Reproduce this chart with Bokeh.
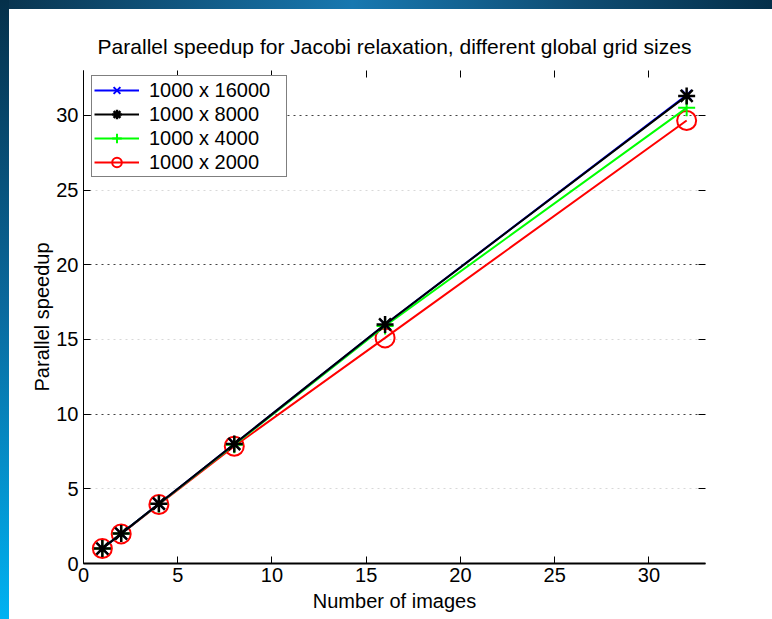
from bokeh.plotting import figure
from bokeh.models import (Range1d, LinearAxis, FixedTicker, Grid, Legend, LegendItem, Spacer)
from bokeh.layouts import row, column
from bokeh.embed import file_html
from bokeh.resources import INLINE

images = [1, 2, 4, 8, 16, 32]
s16000 = [1.0, 2.0, 4.0, 8.0, 16.0, 31.35]
s8000 = [1.0, 2.0, 4.0, 8.0, 16.0, 31.3]
s4000 = [1.0, 2.0, 3.98, 7.95, 15.9, 30.5]
s2000 = [1.0, 1.98, 3.95, 7.85, 15.1, 29.65]
labels = ["1000 x 16000", "1000 x 8000", "1000 x 4000", "1000 x 2000"]
ticks = [0, 5, 10, 15, 20, 25, 30]

FONT = "Liberation Sans"

p = figure(width=763, height=610, output_backend="svg", toolbar_location=None,
           x_range=Range1d(0, 33), y_range=Range1d(0, 33),
           min_border_left=74, min_border_right=67, min_border_top=61, min_border_bottom=56,
           title="Parallel speedup for Jacobi relaxation, different global grid sizes")
p.background_fill_color = "white"
p.border_fill_color = "white"
p.outline_line_color = None

p.title.text_font = FONT
p.title.text_font_size = "21px"
p.title.text_font_style = "normal"
p.title.align = "center"
p.title.text_color = "black"
p.title.standoff = 25

for ax in (p.xaxis[0], p.yaxis[0]):
    ax.ticker = FixedTicker(ticks=ticks)
    ax.major_label_text_font = FONT
    ax.major_label_text_font_size = "20px"
    ax.major_label_text_color = "black"
    ax.axis_label_text_font = FONT
    ax.axis_label_text_font_size = "20px"
    ax.axis_label_text_font_style = "normal"
    ax.axis_label_text_color = "black"
    ax.major_tick_in = 7
    ax.major_tick_out = 0
    ax.minor_tick_line_color = None
    ax.axis_line_color = "black"
    ax.major_tick_line_color = "black"
    ax.major_label_standoff = 5
p.xaxis.axis_line_width = 2
p.xaxis.major_label_standoff = 4
p.xaxis.axis_label = "Number of images"
p.yaxis.axis_label = "Parallel speedup"
p.xaxis.axis_label_standoff = 5
p.yaxis.axis_label_standoff = 0

for loc in ("above", "right"):
    ax = LinearAxis(ticker=FixedTicker(ticks=ticks), axis_line_alpha=0,
                    major_label_text_alpha=0, major_label_text_font_size="1px",
                    major_tick_in=7, major_tick_out=0, minor_tick_line_color=None,
                    major_tick_line_color="black")
    p.add_layout(ax, loc)

p.xgrid.visible = False
p.ygrid.visible = False
p.add_layout(Grid(dimension=1, ticker=FixedTicker(ticks=[10, 20, 30]),
                  grid_line_color="#444444", grid_line_dash="dotted", grid_line_width=1))
p.add_layout(Grid(dimension=1, ticker=FixedTicker(ticks=[5, 15, 25]),
                  grid_line_color="#d8d8d8", grid_line_dash="dotted", grid_line_width=1))

# draw order: red, green, blue, black (black on top)
r4l = p.line(images, s2000, color="#ff0000", line_width=2)
r4m = p.scatter(images, s2000, marker="circle", size=19, line_color="#ff0000",
                fill_color=None, line_width=2)
r3l = p.line(images, s4000, color="#00ff00", line_width=2)
r3m = p.scatter(images, s4000, marker="cross", size=17, line_color="#00ff00", line_width=2)
r1l = p.line(images, s16000, color="#0000ff", line_width=2)
r1m = p.scatter(images, s16000, marker="x", size=14, line_color="#0000ff", line_width=2)
r2l = p.line(images, s8000, color="black", line_width=2)
r2m = p.scatter(images, s8000, marker="asterisk", size=17, line_color="black", line_width=2.5)

legend = Legend(items=[
    LegendItem(label=labels[0], renderers=[r1l, r1m]),
    LegendItem(label=labels[1], renderers=[r2l, r2m]),
    LegendItem(label=labels[2], renderers=[r3l, r3m]),
    LegendItem(label=labels[3], renderers=[r4l, r4m]),
], location=(8, 386))
legend.label_text_font = FONT
legend.label_text_font_size = "20px"
legend.label_text_color = "black"
legend.border_line_color = "black"
legend.border_line_width = 1
legend.background_fill_color = "white"
legend.background_fill_alpha = 1
legend.glyph_width = 45
legend.glyph_height = 24
legend.spacing = 0
legend.padding = 2
legend.margin = 0
legend.label_standoff = 10
legend.label_height = 24
legend.label_width = 135
p.add_layout(legend, "center")

left_strip = Spacer(width=9, height=619,
                    styles={"background": "linear-gradient(to bottom, #05304a 0%, #0a6a9e 50%, #00b2f2 100%)"})
top_band = Spacer(width=763, height=9,
                  styles={"background": "linear-gradient(to right, #0a3550 0%, #1878b0 45%, #0f4c72 75%, #05304a 100%)"})
root = row(left_strip, column(top_band, p, spacing=0), spacing=0)

open("out.html", "w").write(file_html(root, INLINE))
